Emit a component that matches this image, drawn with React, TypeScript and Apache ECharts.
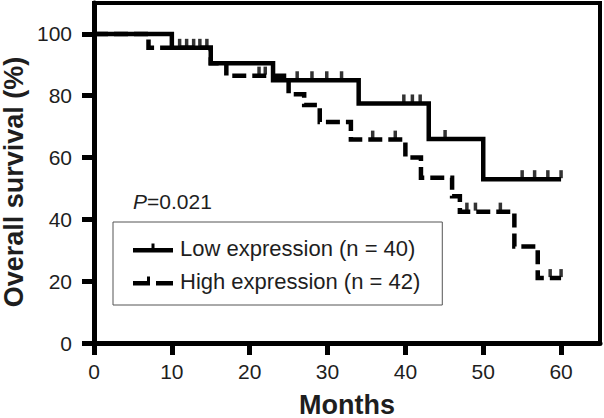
import React, { useEffect, useRef } from 'react';
import * as echarts from 'echarts';

const xTicks = [0, 10, 20, 30, 40, 50, 60];
const yTicks = [0, 20, 40, 60, 80, 100];

const seriesNames = ['Low expression (n = 40)', 'High expression (n = 42)'];
const pValueLabel = 'P';
const pValueRest = '=0.021';
const xTitle = 'Months';
const yTitle = 'Overall survival (%)';

// Low expression (solid)
const lowTimes = [0, 10, 15, 23, 34, 43, 50, 60];
const lowSurv = [100, 95.5, 90.5, 85, 77.5, 66, 53, 53];
const lowCensor = [11, 11.9, 12.8, 13.6, 14.5, 26.1, 28, 29.9, 31.8, 39.8, 40.9, 41.9, 45.1, 55, 56.6, 58.3, 60];

// High expression (dashed)
const highTimes = [0, 7, 15, 17, 25, 27, 29, 33, 40, 42, 46, 47, 54, 57, 60];
const highSurv = [100, 95.5, 90.5, 86.5, 80.5, 77, 71.5, 65.8, 60, 53.5, 47.5, 42.5, 31.2, 21, 21];
const highCensor = [21.2, 22, 35.8, 38.7, 47.9, 49, 52.2, 58.6, 60];

const FONT = '"Liberation Sans", Arial, Helvetica, sans-serif';
const INK = '#1e1e1e';

const lowIcon = 'path://M0,4.5L40,4.5L40,9L0,9Z M18.5,0L21.5,0L21.5,4.5L18.5,4.5Z';
const highIcon = 'path://M0,4.5L17,4.5L17,9L0,9Z M14,0L17,0L17,4.5L14,4.5Z M23,4.5L40,4.5L40,9L23,9Z';

function survivalAt(times: number[], surv: number[], t: number): number {
  let v = surv[0];
  for (let i = 0; i < times.length; i++) {
    if (times[i] <= t) v = surv[i];
  }
  return v;
}

export default function App() {
  const ref = useRef<HTMLDivElement>(null);

  useEffect(() => {
    if (!ref.current) return;
    const chart = echarts.init(ref.current, undefined, { renderer: 'svg' });

    const option: any = {
      animation: false,
      backgroundColor: '#ffffff',
      textStyle: { fontFamily: FONT },
      grid: {
        left: 94,
        right: 4,
        top: 3,
        bottom: 75,
        containLabel: false,
        outerBoundsMode: 'none',
        show: true,
        borderColor: '#000',
        borderWidth: 4,
        backgroundColor: 'transparent',
      },
      legend: {
        show: true,
        selectedMode: false,
        data: [
          { name: seriesNames[0], icon: lowIcon },
          { name: seriesNames[1], icon: highIcon },
        ],
        orient: 'vertical',
        left: 113,
        top: 222,
        borderColor: '#555',
        borderWidth: 1,
        padding: [15, 22, 13, 20],
        itemGap: 11,
        itemWidth: 40,
        itemHeight: 9,
        itemStyle: { color: '#000', borderWidth: 0 },
        textStyle: { fontSize: 22, color: INK, fontFamily: FONT, padding: [0, 0, 0, 2] },
      },
      xAxis: {
        type: 'value',
        min: 0,
        max: 65,
        name: xTitle,
        nameLocation: 'middle',
        nameGap: 48,
        nameTextStyle: { fontSize: 27, fontWeight: 'bold', color: INK, fontFamily: FONT },
        axisLine: { show: true, onZero: false, lineStyle: { color: '#000', width: 5 } },
        axisTick: { show: true, inside: false, length: 12, customValues: xTicks, lineStyle: { color: '#000', width: 5 } },
        axisLabel: { customValues: xTicks, fontSize: 21, color: INK, margin: 18, fontFamily: FONT },
        splitLine: { show: false },
      },
      yAxis: {
        type: 'value',
        min: 0,
        max: 110,
        axisLine: { show: true, onZero: false, lineStyle: { color: '#000', width: 5 } },
        axisTick: { show: true, inside: false, length: 12, customValues: yTicks, lineStyle: { color: '#000', width: 5 } },
        axisLabel: { customValues: yTicks, fontSize: 21, color: INK, margin: 22, fontFamily: FONT },
        splitLine: { show: false },
      },
      series: [
        {
          name: seriesNames[0],
          type: 'line',
          step: 'end',
          symbol: 'none',
          showSymbol: false,
          data: lowTimes.map((t, i) => [t, lowSurv[i]]),
          lineStyle: { color: '#000', width: 4.5, cap: 'butt', join: 'miter' },
          itemStyle: { color: '#000' },
          z: 3,
        },
        {
          name: seriesNames[1],
          type: 'line',
          step: 'end',
          symbol: 'none',
          showSymbol: false,
          data: highTimes.map((t, i) => [t, highSurv[i]]),
          lineStyle: { color: '#000', width: 4.5, type: [14, 6], cap: 'butt', join: 'miter' },
          itemStyle: { color: '#000' },
          z: 3,
        },
        {
          name: 'low-censor',
          type: 'scatter',
          symbol: 'rect',
          symbolSize: [3.5, 8],
          symbolOffset: [0, -5],
          data: lowCensor.map((t) => [t, survivalAt(lowTimes, lowSurv, t)]),
          itemStyle: { color: '#000' },
          z: 4,
        },
        {
          name: 'high-censor',
          type: 'scatter',
          symbol: 'rect',
          symbolSize: [3.5, 8],
          symbolOffset: [0, -5],
          data: highCensor.map((t) => [t, survivalAt(highTimes, highSurv, t)]),
          itemStyle: { color: '#000' },
          z: 4,
        },
      ],
      graphic: [
        {
          type: 'text',
          left: 133,
          top: 191,
          style: {
            text: '{i|' + pValueLabel + '}' + pValueRest,
            fontSize: 21,
            fill: INK,
            fontFamily: FONT,
            rich: {
              i: { fontStyle: 'italic', fontSize: 21, fill: INK, fontFamily: FONT },
            },
          },
        },
        {
          type: 'text',
          x: 14,
          y: 182,
          rotation: Math.PI / 2,
          style: {
            text: yTitle,
            fontSize: 27,
            fontWeight: 'bold',
            fill: INK,
            fontFamily: FONT,
            align: 'center',
            verticalAlign: 'middle',
          },
        },
      ],
    };

    chart.setOption(option);
    return () => {
      chart.dispose();
    };
  }, []);

  return (
    <div
      ref={ref}
      style={{ position: 'absolute', left: 0, top: 0, width: 604, height: 418 }}
    />
  );
}
